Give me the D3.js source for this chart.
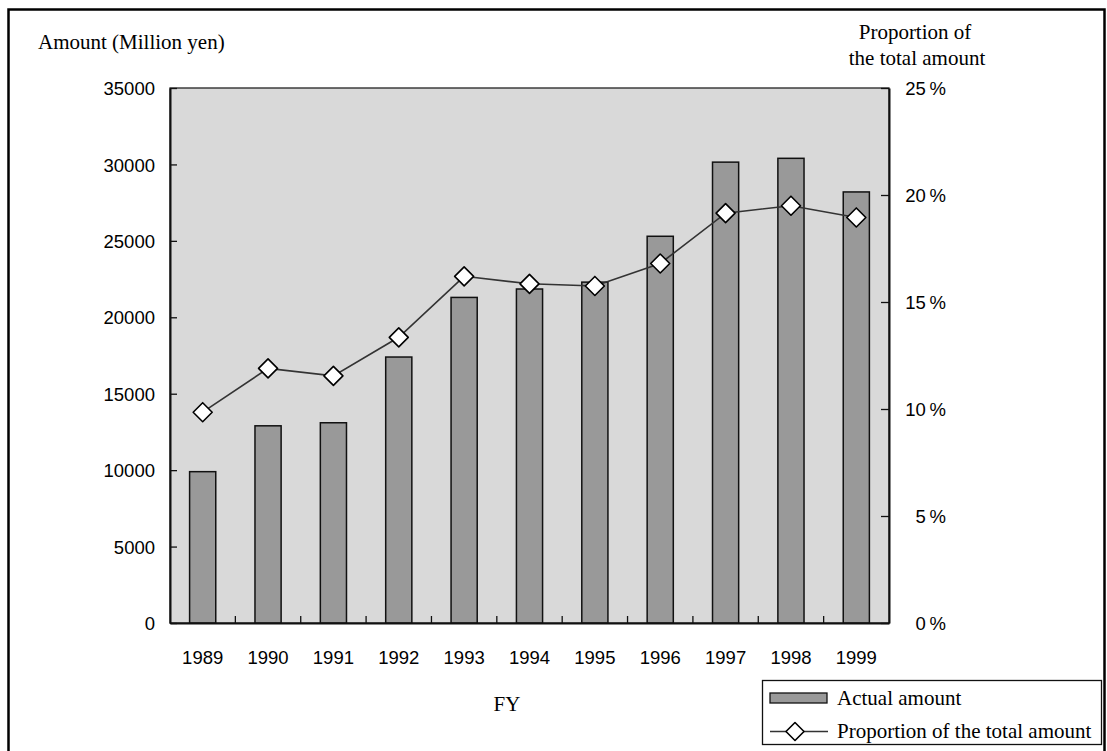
<!DOCTYPE html>
<html>
<head>
<meta charset="utf-8">
<script src="https://cdn.jsdelivr.net/npm/d3@7"></script>
<style>
  html, body { margin: 0; padding: 0; background: #fff; }
  svg { display: block; }
  .sans { font-family: "Liberation Sans", Arial, sans-serif; }
  .serif { font-family: "Liberation Serif", "Times New Roman", serif; }
</style>
</head>
<body>
<svg id="chart" width="1107" height="751"></svg>
<script>
// Fiscal years and values
const years = ["1989", "1990", "1991", "1992", "1993", "1994", "1995", "1996", "1997", "1998", "1999"];
const amounts = [9900, 12900, 13100, 17400, 21300, 21850, 22300, 25300, 30150, 30400, 28200]; // million yen
const proportions = [9.85, 11.9, 11.55, 13.35, 16.2, 15.85, 15.75, 16.8, 19.15, 19.5, 18.95]; // percent
const amountTicks = [0, 5000, 10000, 15000, 20000, 25000, 30000, 35000];
const percentTicks = [0, 5, 10, 15, 20, 25];

const svg = d3.select("#chart");
const plot = { left: 170, right: 889, top: 88, bottom: 623 };
const serifSize = 21, sansSize = 18.5;

// Outer frame
svg.append("rect")
  .attr("x", 8.5).attr("y", 9.5)
  .attr("width", 1096).attr("height", 760)
  .attr("fill", "none").attr("stroke", "#000").attr("stroke-width", 2.5);

const x = d3.scaleBand().domain(years)
  .range([plot.left, plot.right])
  .paddingInner(0.6).paddingOuter(0.3);
const step = x.step();
const yL = d3.scaleLinear().domain([0, 35000]).range([plot.bottom, plot.top]);
const yR = d3.scaleLinear().domain([0, 25]).range([plot.bottom, plot.top]);

// Plot background
svg.append("rect")
  .attr("x", plot.left).attr("y", plot.top)
  .attr("width", plot.right - plot.left).attr("height", plot.bottom - plot.top)
  .attr("fill", "#d9d9d9").attr("stroke", "#222").attr("stroke-width", 1.3);

// Bars
svg.append("g").selectAll("rect").data(years).join("rect")
  .attr("x", d => x(d))
  .attr("y", (d, i) => yL(amounts[i]))
  .attr("width", x.bandwidth())
  .attr("height", (d, i) => yL(0) - yL(amounts[i]))
  .attr("fill", "#999999").attr("stroke", "#111").attr("stroke-width", 1.5);

// Left axis (ticks point inward)
const gL = svg.append("g").attr("transform", `translate(${plot.left},0)`)
  .call(d3.axisLeft(yL).tickValues(amountTicks).tickSizeInner(-7).tickSizeOuter(0).tickFormat(d3.format("d")));
gL.select(".domain").attr("stroke", "#111").attr("stroke-width", 2);
gL.selectAll(".tick line").attr("stroke", "#111").attr("stroke-width", 1.3);
gL.selectAll("text").attr("class", "sans").attr("font-size", sansSize).attr("fill", "#000")
  .attr("x", -15).attr("dy", "0.36em");

// Right axis (ticks point inward)
const gR = svg.append("g").attr("transform", `translate(${plot.right},0)`)
  .call(d3.axisRight(yR).tickValues(percentTicks).tickSizeInner(-8).tickSizeOuter(0).tickFormat(d => d + "\u2009%"));
gR.select(".domain").attr("stroke", "#111").attr("stroke-width", 2);
gR.selectAll(".tick line").attr("stroke", "#111").attr("stroke-width", 1.3);
gR.selectAll("text").attr("class", "sans").attr("font-size", sansSize).attr("fill", "#000")
  .attr("text-anchor", "end").attr("x", 57).attr("dy", "0.36em");

// Bottom axis: category labels plus ticks between categories
const gB = svg.append("g").attr("transform", `translate(0,${plot.bottom})`)
  .call(d3.axisBottom(x).tickSize(0).tickPadding(0));
gB.select(".domain").attr("stroke", "#111").attr("stroke-width", 2);
gB.selectAll("text").attr("class", "sans").attr("font-size", sansSize).attr("fill", "#000")
  .attr("y", 41).attr("dy", 0);
gB.append("g").selectAll("line").data(years.slice(1)).join("line")
  .attr("x1", d => x(d) - step * x.paddingInner() / 2)
  .attr("x2", d => x(d) - step * x.paddingInner() / 2)
  .attr("y1", 0).attr("y2", -7)
  .attr("stroke", "#111").attr("stroke-width", 1.3);

// Proportion line
const cx = d => x(d) + x.bandwidth() / 2;
const line = d3.line().x((d, i) => cx(years[i])).y(d => yR(d));
svg.append("path").datum(proportions)
  .attr("d", line).attr("fill", "none").attr("stroke", "#333").attr("stroke-width", 1.6);

const diamond = r => `M0,${-r}L${r},0L0,${r}L${-r},0Z`;
svg.append("g").selectAll("path").data(proportions).join("path")
  .attr("transform", (d, i) => `translate(${cx(years[i])},${yR(d)})`)
  .attr("d", diamond(9.5))
  .attr("fill", "#fff").attr("stroke", "#000").attr("stroke-width", 1.6).attr("stroke-linejoin", "round");

// Axis titles
svg.append("text").attr("class", "serif").attr("font-size", serifSize)
  .attr("x", 38).attr("y", 49).text("Amount (Million yen)");
svg.append("text").attr("class", "serif").attr("font-size", serifSize)
  .attr("x", 915).attr("y", 39).attr("text-anchor", "middle").text("Proportion of");
svg.append("text").attr("class", "serif").attr("font-size", serifSize)
  .attr("x", 917).attr("y", 65).attr("text-anchor", "middle").text("the total amount");
svg.append("text").attr("class", "serif").attr("font-size", serifSize)
  .attr("x", 507).attr("y", 711).attr("text-anchor", "middle").text("FY");

// Legend
const lg = svg.append("g");
lg.append("rect").attr("x", 762.5).attr("y", 680.5).attr("width", 339).attr("height", 64)
  .attr("fill", "#fff").attr("stroke", "#111").attr("stroke-width", 1.3);
lg.append("rect").attr("x", 770).attr("y", 693).attr("width", 57).attr("height", 10)
  .attr("fill", "#999999").attr("stroke", "#111").attr("stroke-width", 1.3);
lg.append("text").attr("class", "serif").attr("font-size", serifSize)
  .attr("x", 837).attr("y", 705).text("Actual amount");
lg.append("line").attr("x1", 770).attr("x2", 828).attr("y1", 731.5).attr("y2", 731.5)
  .attr("stroke", "#333").attr("stroke-width", 1.6);
lg.append("path").attr("transform", "translate(795,731.5)").attr("d", diamond(9))
  .attr("fill", "#fff").attr("stroke", "#000").attr("stroke-width", 1.6).attr("stroke-linejoin", "round");
lg.append("text").attr("class", "serif").attr("font-size", serifSize)
  .attr("x", 837).attr("y", 738).text("Proportion of the total amount");
</script>
</body>
</html>
